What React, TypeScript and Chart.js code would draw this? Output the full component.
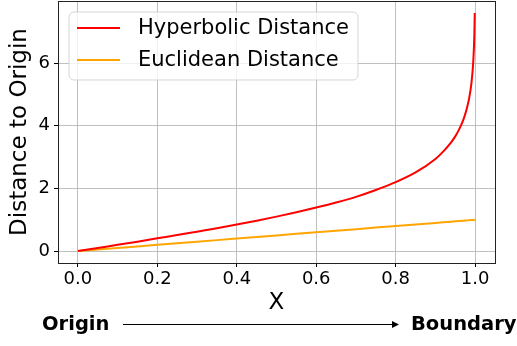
import React, { useEffect, useRef } from "react";
import { Chart, registerables } from "chart.js";

Chart.register(...registerables);

const xValues = [0, 0.05, 0.1, 0.15, 0.2, 0.25, 0.3, 0.35, 0.4, 0.45, 0.5, 0.55, 0.6, 0.65, 0.7, 0.75, 0.8, 0.85, 0.9, 0.92, 0.94, 0.95, 0.96, 0.97, 0.975, 0.98, 0.985, 0.99, 0.993, 0.995, 0.997, 0.998, 0.999];
const hyperbolic = [0, 0.1, 0.2, 0.3, 0.41, 0.51, 0.62, 0.73, 0.85, 0.97, 1.1, 1.24, 1.39, 1.55, 1.73, 1.95, 2.2, 2.51, 2.94, 3.18, 3.48, 3.66, 3.89, 4.18, 4.37, 4.6, 4.88, 5.29, 5.65, 5.99, 6.51, 6.91, 7.6];
const euclidean = [0, 0.05, 0.1, 0.15, 0.2, 0.25, 0.3, 0.35, 0.4, 0.45, 0.5, 0.55, 0.6, 0.65, 0.7, 0.75, 0.8, 0.85, 0.9, 0.92, 0.94, 0.95, 0.96, 0.97, 0.975, 0.98, 0.985, 0.99, 0.993, 0.995, 0.997, 0.998, 0.999];
const xTicks = [0, 0.2, 0.4, 0.6, 0.8, 1.0];
const yTicks = [0, 2, 4, 6];
const seriesNames = ["Hyperbolic Distance", "Euclidean Distance"];
const seriesColors = ["#ff0000", "#ffa500"];

const FONT = "'DejaVu Sans', sans-serif";

export default function App() {
  const ref = useRef<HTMLCanvasElement | null>(null);
  useEffect(() => {
    document.body.style.margin = "0";
    const canvas = ref.current!;
    const overlay = {
      id: "overlay",
      afterDraw(chart: any) {
        const { ctx, chartArea } = chart;
        const { left, right, top, bottom } = chartArea;
        ctx.save();
        // spines
        ctx.strokeStyle = "#222";
        ctx.lineWidth = 1;
        ctx.strokeRect(Math.round(left) + 0.5, Math.round(top) + 0.5, Math.round(right - left), Math.round(bottom - top));
        // legend
        const lx = 69, ly = 12, lw = 289, lh = 68, r = 5;
        ctx.beginPath();
        ctx.moveTo(lx + r, ly);
        ctx.arcTo(lx + lw, ly, lx + lw, ly + lh, r);
        ctx.arcTo(lx + lw, ly + lh, lx, ly + lh, r);
        ctx.arcTo(lx, ly + lh, lx, ly, r);
        ctx.arcTo(lx, ly, lx + lw, ly, r);
        ctx.closePath();
        ctx.fillStyle = "rgba(255,255,255,0.8)";
        ctx.fill();
        ctx.strokeStyle = "rgba(204,204,204,0.8)";
        ctx.lineWidth = 1;
        ctx.stroke();
        ctx.font = `21px ${FONT}`;
        ctx.textBaseline = "middle";
        ctx.textAlign = "left";
        seriesNames.forEach((name, i) => {
          const y = 28 + i * 32;
          ctx.strokeStyle = seriesColors[i];
          ctx.lineWidth = 2;
          ctx.beginPath();
          ctx.moveTo(77, y);
          ctx.lineTo(120, y);
          ctx.stroke();
          ctx.fillStyle = "#000";
          ctx.fillText(name, 138, y + 1);
        });
        // axis titles
        ctx.fillStyle = "#000";
        ctx.font = `23px ${FONT}`;
        ctx.textAlign = "center";
        ctx.fillText("X", (left + right) / 2, 303);
        ctx.save();
        ctx.translate(20, (top + bottom) / 2);
        ctx.rotate(-Math.PI / 2);
        ctx.fillText("Distance to Origin", 0, 0);
        ctx.restore();
        // Origin -> Boundary annotation
        ctx.font = `bold 19.5px ${FONT}`;
        ctx.textAlign = "left";
        ctx.fillText("Origin", 42, 325);
        ctx.fillText("Boundary", 411, 325);
        ctx.strokeStyle = "#000";
        ctx.lineWidth = 1.2;
        ctx.beginPath();
        ctx.moveTo(123, 324.5);
        ctx.lineTo(395, 324.5);
        ctx.stroke();
        ctx.fillStyle = "#000";
        ctx.beginPath();
        ctx.moveTo(399, 324.5);
        ctx.lineTo(392, 321);
        ctx.lineTo(392, 328);
        ctx.closePath();
        ctx.fill();
        ctx.restore();
      },
    };
    const chart = new Chart(canvas, {
      type: "line",
      data: {
        datasets: [
          {
            label: seriesNames[0],
            data: xValues.map((x, i) => ({ x, y: hyperbolic[i] })),
            borderColor: seriesColors[0],
            borderWidth: 2,
            pointRadius: 0,
            fill: false,
            cubicInterpolationMode: "monotone",
          },
          {
            label: seriesNames[1],
            data: xValues.map((x, i) => ({ x, y: euclidean[i] })),
            borderColor: seriesColors[1],
            borderWidth: 2,
            pointRadius: 0,
            fill: false,
          },
        ],
      },
      options: {
        animation: false,
        responsive: true,
        maintainAspectRatio: false,
        layout: { padding: { top: 1, right: 22, left: 0, bottom: 0 } },
        plugins: { legend: { display: false }, tooltip: { enabled: false } },
        scales: {
          x: {
            type: "linear",
            min: -0.05,
            max: 1.05,
            afterBuildTicks: (s: any) => {
              s.ticks = xTicks.map((v) => ({ value: v }));
            },
            afterFit: (s: any) => {
              s.height = 346 - 262 - 1;
              s.paddingLeft = 0;
              s.paddingRight = 0;
            },
            ticks: {
              callback: (v: any) => Number(v).toFixed(1),
              font: { family: FONT, size: 18 },
              color: "#000",
              padding: 2,
              maxRotation: 0,
            },
            grid: { color: "#b0b0b0", lineWidth: 0.8, tickColor: "#000", tickLength: 4, tickWidth: 1 },
            border: { display: false },
          },
          y: {
            type: "linear",
            min: -0.38,
            max: 7.98,
            afterBuildTicks: (s: any) => {
              s.ticks = yTicks.map((v) => ({ value: v }));
            },
            afterFit: (s: any) => {
              s.width = 58;
              s.paddingTop = 0;
              s.paddingBottom = 0;
            },
            ticks: {
              callback: (v: any) => String(v),
              font: { family: FONT, size: 18 },
              color: "#000",
              padding: 4,
            },
            grid: { color: "#b0b0b0", lineWidth: 0.8, tickColor: "#000", tickLength: 4, tickWidth: 1 },
            border: { display: false },
          },
        },
      },
      plugins: [overlay],
    });
    return () => chart.destroy();
  }, []);
  return (
    <div style={{ position: "fixed", left: 0, top: 0, width: 517, height: 346 }}>
      <canvas ref={ref} />
    </div>
  );
}
